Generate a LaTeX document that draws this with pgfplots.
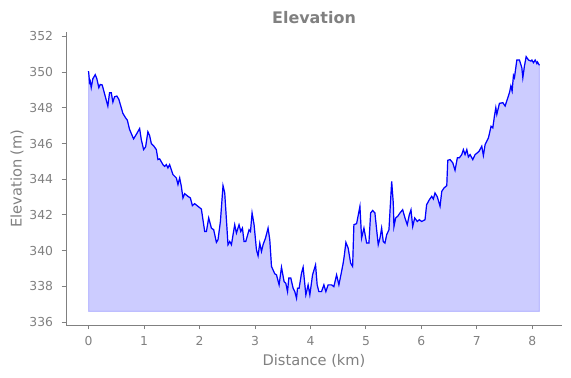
\documentclass[border=0pt]{standalone}
\usepackage{fontspec}
\setmainfont{DejaVu Sans}
\usepackage{pgfplots}
\usepackage{pgfplotstable}
\pgfplotsset{compat=1.18}
\definecolor{txtgray}{HTML}{808080}
\pgfplotstableread{
x y
0.000 350.06
0.009 349.78
0.018 349.41
0.031 349.50
0.049 349.13
0.078 349.63
0.121 349.86
0.150 349.63
0.186 349.13
0.211 349.31
0.247 349.28
0.276 348.94
0.348 348.10
0.379 348.85
0.410 348.85
0.439 348.32
0.469 348.62
0.511 348.66
0.547 348.47
0.590 348.01
0.619 347.69
0.668 347.44
0.699 347.31
0.740 346.79
0.812 346.26
0.861 346.51
0.921 346.84
0.951 346.22
0.993 345.66
1.029 345.81
1.070 346.66
1.101 346.45
1.132 346.00
1.179 345.85
1.222 345.66
1.251 345.10
1.282 345.14
1.341 344.82
1.372 344.72
1.403 344.82
1.431 344.63
1.462 344.82
1.522 344.26
1.583 344.07
1.612 343.70
1.643 344.07
1.673 343.60
1.702 342.95
1.733 343.19
1.792 343.04
1.836 342.95
1.872 342.52
1.913 342.63
1.973 342.48
2.034 342.33
2.094 341.07
2.125 341.07
2.166 341.83
2.215 341.26
2.256 341.17
2.305 340.46
2.334 340.61
2.377 341.63
2.424 343.64
2.455 343.23
2.514 340.33
2.545 340.51
2.576 340.33
2.605 340.89
2.635 341.45
2.666 340.98
2.713 341.45
2.744 341.07
2.774 341.26
2.803 340.51
2.834 340.51
2.894 341.17
2.919 341.07
2.948 342.11
2.984 341.45
3.027 340.04
3.056 339.71
3.087 340.42
3.117 339.95
3.146 340.33
3.190 340.70
3.236 341.26
3.267 340.61
3.298 339.11
3.357 338.70
3.388 338.64
3.435 338.08
3.478 339.07
3.525 338.26
3.556 338.17
3.587 337.70
3.610 338.46
3.646 338.46
3.688 337.89
3.718 337.70
3.749 337.33
3.767 337.89
3.796 337.89
3.839 338.74
3.868 339.07
3.917 337.52
3.958 338.08
3.989 337.52
4.038 338.64
4.092 339.20
4.121 338.08
4.152 337.70
4.200 337.70
4.242 338.08
4.278 337.70
4.319 338.08
4.381 338.08
4.422 337.98
4.471 338.64
4.513 338.08
4.561 338.83
4.590 339.30
4.608 339.67
4.639 340.46
4.680 340.14
4.724 339.30
4.760 339.11
4.783 341.45
4.832 341.51
4.892 342.48
4.922 340.70
4.964 341.26
5.013 340.42
5.054 340.42
5.085 342.11
5.121 342.25
5.162 342.11
5.193 341.17
5.222 340.33
5.253 340.70
5.283 341.26
5.312 340.51
5.343 340.42
5.374 340.89
5.415 341.17
5.464 343.88
5.493 342.67
5.505 341.35
5.536 341.83
5.572 341.92
5.614 342.11
5.662 342.29
5.704 341.83
5.745 341.45
5.782 342.01
5.812 342.29
5.843 341.35
5.879 341.83
5.926 341.63
5.962 341.73
6.005 341.63
6.065 341.73
6.094 342.57
6.143 342.85
6.186 343.04
6.215 342.89
6.245 343.23
6.287 343.01
6.336 342.48
6.367 343.32
6.408 343.51
6.457 343.64
6.475 345.06
6.516 345.10
6.565 344.92
6.606 344.50
6.648 345.20
6.684 345.20
6.727 345.38
6.756 345.66
6.787 345.38
6.818 345.66
6.847 345.25
6.877 345.38
6.926 345.10
6.968 345.38
7.009 345.48
7.040 345.57
7.088 345.85
7.117 345.33
7.148 345.94
7.208 346.32
7.256 346.97
7.287 346.88
7.316 347.53
7.341 348.01
7.359 347.63
7.406 348.25
7.468 348.29
7.509 348.10
7.587 348.85
7.612 349.22
7.635 348.94
7.659 349.82
7.677 349.69
7.720 350.68
7.767 350.68
7.810 350.25
7.828 349.69
7.857 350.34
7.888 350.87
7.930 350.68
7.973 350.62
7.991 350.68
8.020 350.53
8.051 350.68
8.081 350.49
8.092 350.57
8.128 350.38
}\elev
\begin{document}
\begin{tikzpicture}
\begin{axis}[
  at={(66bp,53bp)}, anchor=south west,
  scale only axis, width=496bp, height=293bp,
  xmin=-0.406, xmax=8.534, ymin=335.83, ymax=352.25,
  axis x line*=bottom, axis y line*=left,
  axis line style={txtgray, line width=0.9bp},
  tick style={txtgray, line width=0.9bp},
  tick align=outside, major tick length=4.3bp,
  xtick={0,1,2,3,4,5,6,7,8},
  ytick={336,338,340,342,344,346,348,350,352},
  /pgf/number format/assume math mode=true,
  /pgf/number format/1000 sep={},
  ticklabel style={font=\fontsize{12.4}{14}\selectfont, text=txtgray},
  yticklabel style={inner sep=0pt, xshift=-8.5bp},
  xticklabel style={inner sep=0pt, yshift=-7bp},
  xlabel={Distance (km)}, ylabel={Elevation (m)},
  label style={font=\fontsize{14.7}{17}\selectfont, text=txtgray},
  xlabel style={at={(axis description cs:0.5,0)}, anchor=base, inner sep=0pt, yshift=-40bp},
  ylabel style={at={(axis description cs:0,0.5)}, anchor=center, inner sep=0pt, yshift=49bp},
  title={\bfseries Elevation},
  title style={at={(axis description cs:0.5,1.008)}, anchor=base, inner sep=0pt, font=\fontsize{16}{19}\selectfont, text=txtgray},
]
\addplot[draw=blue, fill=blue, opacity=0.2, line width=1bp, forget plot] table[x=x, y=y] {\elev} -- (axis cs:8.128,336.6) -- (axis cs:0,336.6) -- cycle;
\addplot[blue, line width=1.2bp, mark=none] table[x=x, y=y] {\elev};
\end{axis}
\path (0,0) rectangle (571bp,378bp);
\end{tikzpicture}
\end{document}
